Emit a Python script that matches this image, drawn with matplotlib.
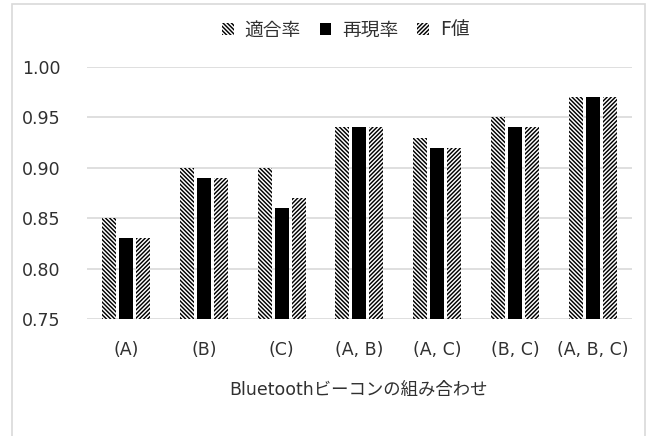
import numpy as np
import matplotlib.pyplot as plt
from matplotlib.patches import Rectangle

plt.rcParams['font.family'] = ['DejaVu Sans', 'Noto Sans CJK JP']
plt.rcParams['hatch.linewidth'] = 1.05

categories = ["(A)", "(B)", "(C)", "(A, B)", "(A, C)", "(B, C)", "(A, B, C)"]
precision = [0.85, 0.90, 0.90, 0.94, 0.93, 0.95, 0.97]
recall    = [0.83, 0.89, 0.86, 0.94, 0.92, 0.94, 0.97]
f_value   = [0.83, 0.89, 0.87, 0.94, 0.92, 0.94, 0.97]
series_names = ["適合率", "再現率", "F値"]
yticks = [0.75, 0.80, 0.85, 0.90, 0.95, 1.00]

TEXT = "#303030"
GRID = "#d9d9d9"

fig = plt.figure(figsize=(6.55, 4.36), dpi=100)
ax = fig.add_axes([0.1328, 0.2683, 0.832, 0.578])

x = np.arange(len(categories))
w = 0.18
step = 0.218
ax.bar(x - step, precision, w, color="white", edgecolor="black", hatch="\\" * 8,
       linewidth=0, label=series_names[0], zorder=3)
ax.bar(x, recall, w, color="black", linewidth=0, label=series_names[1], zorder=3)
ax.bar(x + step, f_value, w, color="white", edgecolor="black", hatch="/" * 8,
       linewidth=0, label=series_names[2], zorder=3)

ax.set_ylim(0.75, 1.00)
ax.set_xlim(-0.5, len(categories) - 0.5)
ax.set_yticks(yticks)
ax.set_yticklabels([f"{v:.2f}" for v in yticks])
ax.set_xticks(x)
ax.set_xticklabels(categories)
ax.tick_params(axis="y", length=0, pad=19, labelsize=12.5, labelcolor=TEXT)
ax.tick_params(axis="x", length=0, pad=16, labelsize=12.5, labelcolor=TEXT)
ax.grid(axis="y", color=GRID, linewidth=1.2, zorder=0)
for s in ax.spines.values():
    s.set_visible(False)

fig.text(0.548, 1 - 390 / 436, "Bluetoothビーコンの組み合わせ", ha="center", va="center",
         fontsize=12.5, color=TEXT)

fig.legend(loc="center", bbox_to_anchor=(0.528, 1 - 30 / 436), ncol=3, frameon=False,
           fontsize=13.5, handlelength=0.6, handleheight=0.6, handletextpad=0.6,
           columnspacing=1.0, labelcolor=TEXT)

# outer chart frame
fig.patches.append(Rectangle((12 / 655, -0.05), 633 / 655, 1.05 - 4 / 436,
                             transform=fig.transFigure, fill=False,
                             edgecolor=GRID, linewidth=1.2))

fig.savefig("out.png", dpi=100)
